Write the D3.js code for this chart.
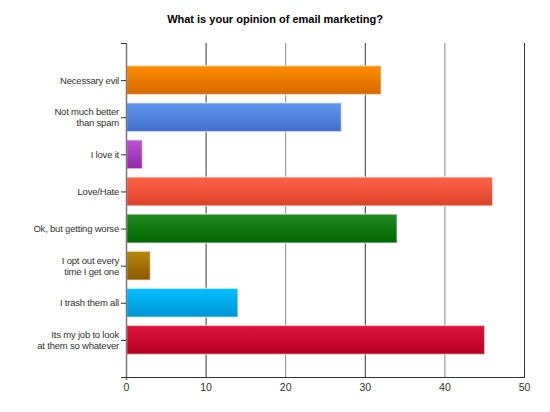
<!DOCTYPE html>
<html>
<head>
<meta charset="utf-8">
<script src="https://cdn.jsdelivr.net/npm/d3@7/dist/d3.min.js"></script>
<style>
body{margin:0;background:#fff;}
svg{display:block;font-family:"Liberation Sans",Arial,sans-serif;}
</style>
</head>
<body>
<svg id="c" width="550" height="412"></svg>
<script>
const title = "What is your opinion of email marketing?";
const categories = [
  ["Necessary evil"],
  ["Not much better", "than spam"],
  ["I love it"],
  ["Love/Hate"],
  ["Ok, but getting worse"],
  ["I opt out every", "time I get one"],
  ["I trash them all"],
  ["Its my job to look", "at them so whatever"]
];
const values = [32, 27, 2, 46, 34, 3, 14, 45];
const topColors = ["#ff8c00", "#6495ed", "#ba55d3", "#ff6347", "#228b22", "#b8860b", "#00bfff", "#dc143c"];
const bottomColors = ["#d86800", "#3f6fcc", "#9028a8", "#dc4028", "#006400", "#8b5a00", "#0094d4", "#b80020"];
const xTicks = [0, 10, 20, 30, 40, 50];

const svg = d3.select("#c");
const pL = 126, pR = 524, pT = 43, pB = 377;
const keys = categories.map((d, i) => i);
const x = d3.scaleLinear().domain([0, 50]).range([pL, pR]);
const y = d3.scalePoint().domain(keys).range([pT, pB]).padding(1);
const barH = y.step() * 0.78;

const defs = svg.append("defs");
keys.forEach(i => {
  const g = defs.append("linearGradient").attr("id", "g" + i)
    .attr("x1", 0).attr("y1", 0).attr("x2", 0).attr("y2", 1);
  g.append("stop").attr("offset", "0%").attr("stop-color", topColors[i]);
  g.append("stop").attr("offset", "100%").attr("stop-color", bottomColors[i]);
});

// title
svg.append("text").attr("x", 275).attr("y", 23).attr("text-anchor", "middle")
  .attr("font-size", "11px").attr("font-weight", "bold").attr("fill", "#000").text(title);

// gridlines
svg.append("g").selectAll("line").data(xTicks.slice(1)).join("line")
  .attr("x1", d => x(d) + 0.5).attr("x2", d => x(d) + 0.5)
  .attr("y1", pT).attr("y2", pB)
  .attr("stroke", (d, i) => i % 2 ? "#888" : "#333").attr("stroke-width", 1);

// bars
svg.append("g").selectAll("rect").data(keys).join("rect")
  .attr("x", x(0) + 0.5)
  .attr("y", d => y(d) - barH / 2)
  .attr("width", d => x(values[d]) - x(0))
  .attr("height", barH)
  .attr("fill", d => "url(#g" + d + ")")
  .attr("stroke", "rgba(255,255,255,0.55)").attr("stroke-width", 1.5);

// y axis
const yAxis = svg.append("g");
yAxis.append("line").attr("x1", pL + 0.5).attr("x2", pL + 0.5).attr("y1", pT).attr("y2", pB + 3)
  .attr("stroke", "#777").attr("stroke-width", 1.5);
yAxis.selectAll("line.t").data(keys).join("line").attr("class", "t")
  .attr("x1", pL - 5).attr("x2", pL).attr("y1", d => y(d) + 0.5).attr("y2", d => y(d) + 0.5)
  .attr("stroke", "#333");
yAxis.append("line").attr("x1", pL - 5).attr("x2", pL).attr("y1", pT + 0.5).attr("y2", pT + 0.5).attr("stroke", "#333");
const lab = yAxis.selectAll("text").data(keys).join("text")
  .attr("text-anchor", "end").attr("font-size", "9.5px").attr("letter-spacing", "-0.2px").attr("fill", "#333")
  .attr("transform", d => `translate(${pL - 7},${y(d)})`);
lab.each(function(d) {
  const lines = categories[d];
  const n = lines.length;
  d3.select(this).selectAll("tspan").data(lines).join("tspan")
    .attr("x", 0).attr("y", (l, j) => (j - (n - 1) / 2) * 11 + 3.5).text(l => l);
});

// x axis
const xAxis = d3.axisBottom(x).tickValues(xTicks).tickSize(0).tickPadding(6);
const xg = svg.append("g").attr("transform", `translate(0,${pB + 0.5})`).call(xAxis);
xg.select(".domain").remove();
xg.append("line").attr("x1", pL - 5).attr("x2", pR + 1).attr("stroke", "#333");
xg.selectAll("text").attr("font-size", "10.5px").attr("fill", "#333").attr("font-family", "Liberation Sans, Arial, sans-serif");
</script>
</body>
</html>
